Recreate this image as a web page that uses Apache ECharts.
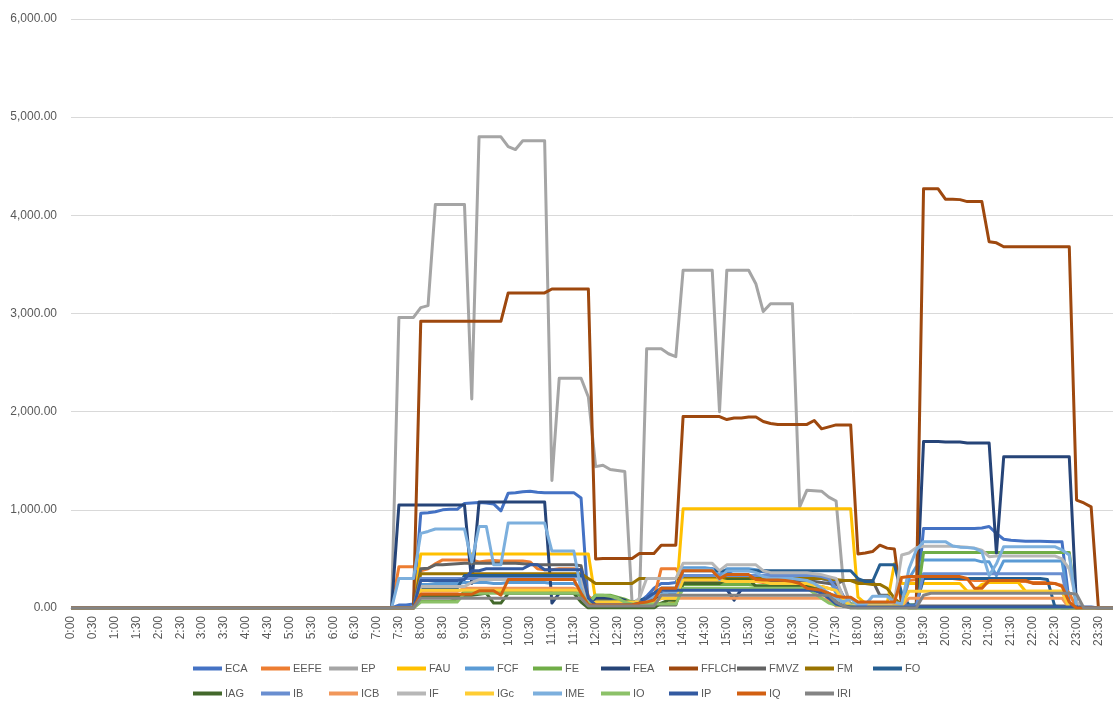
<!DOCTYPE html>
<html>
<head>
<meta charset="utf-8">
<title>Uso por unidade ao longo do dia</title>
<script src="https://cdn.jsdelivr.net/npm/echarts@6/dist/echarts.min.js"></script>
<style>
  html, body { margin: 0; padding: 0; background: #ffffff; }
  #chart { width: 1113px; height: 702px; }
</style>
</head>
<body>
<div id="chart"></div>
<script>
// Time of day, one category every 10 minutes
const times = [
  '0:00','0:10','0:20','0:30','0:40','0:50','1:00','1:10','1:20','1:30','1:40','1:50',
  '2:00','2:10','2:20','2:30','2:40','2:50','3:00','3:10','3:20','3:30','3:40','3:50',
  '4:00','4:10','4:20','4:30','4:40','4:50','5:00','5:10','5:20','5:30','5:40','5:50',
  '6:00','6:10','6:20','6:30','6:40','6:50','7:00','7:10','7:20','7:30','7:40','7:50',
  '8:00','8:10','8:20','8:30','8:40','8:50','9:00','9:10','9:20','9:30','9:40','9:50',
  '10:00','10:10','10:20','10:30','10:40','10:50','11:00','11:10','11:20','11:30','11:40','11:50',
  '12:00','12:10','12:20','12:30','12:40','12:50','13:00','13:10','13:20','13:30','13:40','13:50',
  '14:00','14:10','14:20','14:30','14:40','14:50','15:00','15:10','15:20','15:30','15:40','15:50',
  '16:00','16:10','16:20','16:30','16:40','16:50','17:00','17:10','17:20','17:30','17:40','17:50',
  '18:00','18:10','18:20','18:30','18:40','18:50','19:00','19:10','19:20','19:30','19:40','19:50',
  '20:00','20:10','20:20','20:30','20:40','20:50','21:00','21:10','21:20','21:30','21:40','21:50',
  '22:00','22:10','22:20','22:30','22:40','22:50','23:00','23:10','23:20','23:30','23:40','23:50'
];

// 0:00 - 7:10: every unit is at zero
const night = [0,0,0,0,0,0,0,0,0,0,0,0, 0,0,0,0,0,0,0,0,0,0,0,0,
               0,0,0,0,0,0,0,0,0,0,0,0, 0,0,0,0,0,0,0,0];

// 7:20 - 23:50 (first row 7:20-7:50, then one row per hour from 8h to 23h)
const ECA = [0, 30, 30, 40,
  965, 970, 980, 1000, 1005, 1005,
  1065, 1070, 1075, 1070, 1060, 990,
  1170, 1175, 1185, 1190, 1180, 1175,
  1175, 1175, 1175, 1175, 1120, 20,
  100, 90, 80, 60, 40, 30,
  60, 120, 200, 250, 250, 260,
  390, 400, 400, 400, 400, 380,
  350, 390, 390, 390, 380, 370,
  360, 360, 360, 360, 350, 330,
  320, 300, 280, 260, 120, 40,
  30, 30, 20, 20, 20, 20,
  10, 10, 10, 810, 810, 810,
  810, 810, 810, 810, 810, 815,
  830, 760, 700, 690, 685, 680,
  680, 680, 678, 676, 675, 50,
  0, 0, 0, 0, 0, 0];
const EEFE = [0, 420, 420, 420,
  380, 400, 450, 490, 490, 490,
  490, 490, 470, 480, 485, 480,
  480, 480, 480, 470, 400, 390,
  390, 400, 400, 400, 390, 120,
  60, 50, 50, 40, 40, 30,
  40, 80, 100, 400, 400, 400,
  300, 300, 300, 300, 290, 280,
  270, 280, 280, 280, 270, 260,
  250, 250, 250, 250, 240, 230,
  220, 220, 200, 180, 100, 40,
  20, 20, 20, 20, 20, 20,
  20, 280, 290, 300, 300, 300,
  300, 300, 290, 290, 280, 280,
  280, 280, 280, 270, 270, 270,
  260, 260, 260, 250, 230, 150,
  0, 0, 0, 0, 0, 0];
const EP = [0, 2960, 2960, 2960,
  3060, 3080, 4110, 4110, 4110, 4110,
  4110, 2130, 4800, 4800, 4800, 4800,
  4700, 4670, 4760, 4760, 4760, 4760,
  1300, 2340, 2340, 2340, 2340, 2150,
  1440, 1455, 1410, 1400, 1390, 50,
  30, 2640, 2640, 2640, 2590, 2560,
  3440, 3440, 3440, 3440, 3440, 2000,
  3440, 3440, 3440, 3440, 3300, 3020,
  3100, 3100, 3100, 3100, 1030, 1200,
  1195, 1190, 1130, 1090, 250, 30,
  20, 20, 20, 20, 20, 20,
  20, 0, 0, 0, 0, 0,
  0, 0, 0, 0, 0, 0,
  0, 0, 0, 0, 0, 0,
  0, 0, 0, 0, 0, 0,
  0, 0, 0, 0, 0, 0];
const FAU = [0, 0, 0, 0,
  550, 550, 550, 550, 550, 550,
  550, 550, 550, 550, 550, 550,
  550, 550, 550, 550, 550, 550,
  550, 550, 550, 550, 550, 550,
  80, 80, 70, 60, 50, 40,
  30, 30, 40, 40, 40, 60,
  1010, 1010, 1010, 1010, 1010, 1010,
  1010, 1010, 1010, 1010, 1010, 1010,
  1010, 1010, 1010, 1010, 1010, 1010,
  1010, 1010, 1010, 1010, 1010, 1010,
  110, 50, 40, 40, 40, 450,
  250, 250, 250, 250, 250, 250,
  250, 250, 250, 170, 170, 240,
  260, 260, 260, 260, 260, 170,
  170, 170, 170, 170, 170, 0,
  0, 0, 0, 0, 0, 0];
const FCF = [0, 0, 0, 0,
  240, 240, 250, 250, 250, 250,
  260, 260, 260, 260, 250, 250,
  260, 260, 260, 260, 260, 260,
  250, 250, 250, 250, 200, 30,
  60, 60, 60, 50, 40, 30,
  30, 60, 100, 140, 160, 160,
  410, 410, 410, 410, 400, 330,
  400, 400, 400, 400, 390, 380,
  370, 370, 360, 360, 350, 340,
  330, 320, 300, 150, 60, 30,
  20, 20, 20, 20, 20, 20,
  20, 300, 420, 490, 490, 490,
  490, 490, 490, 490, 490, 470,
  470, 330, 480, 480, 480, 480,
  480, 480, 480, 480, 480, 0,
  0, 0, 0, 0, 0, 0];
const FE = [0, 0, 0, 0,
  70, 70, 70, 70, 70, 90,
  170, 170, 170, 170, 170, 170,
  170, 170, 170, 170, 170, 170,
  170, 170, 170, 170, 120, 60,
  130, 130, 130, 110, 90, 60,
  40, 40, 40, 40, 40, 40,
  240, 240, 240, 240, 240, 240,
  240, 240, 240, 240, 230, 230,
  230, 230, 230, 220, 220, 220,
  200, 180, 150, 100, 60, 40,
  40, 40, 40, 40, 40, 40,
  30, 30, 30, 565, 565, 565,
  565, 565, 565, 565, 565, 565,
  565, 565, 565, 565, 565, 565,
  565, 565, 565, 565, 565, 565,
  0, 0, 0, 0, 0, 0];
const FEA = [0, 1050, 1050, 1050,
  1050, 1050, 1050, 1050, 1050, 1050,
  1050, 250, 1080, 1080, 1080, 1080,
  1080, 1080, 1080, 1080, 1080, 1080,
  50, 150, 150, 150, 150, 30,
  100, 100, 100, 100, 80, 20,
  20, 60, 80, 150, 150, 150,
  190, 190, 190, 190, 190, 190,
  190, 80, 190, 190, 190, 190,
  190, 190, 190, 190, 190, 190,
  190, 180, 150, 60, 20, 10,
  10, 10, 10, 10, 10, 10,
  10, 10, 10, 1695, 1695, 1695,
  1690, 1690, 1690, 1680, 1680, 1680,
  1680, 560, 1540, 1540, 1540, 1540,
  1540, 1540, 1540, 1540, 1540, 1540,
  0, 0, 0, 0, 0, 0];
const FFLCH = [0, 0, 0, 0,
  2920, 2920, 2920, 2920, 2920, 2920,
  2920, 2920, 2920, 2920, 2920, 2920,
  3210, 3210, 3210, 3210, 3210, 3210,
  3250, 3250, 3250, 3250, 3250, 3250,
  500, 505, 505, 505, 505, 505,
  555, 555, 555, 640, 640, 640,
  1950, 1950, 1950, 1950, 1950, 1950,
  1920, 1935, 1935, 1945, 1945, 1900,
  1880, 1870, 1870, 1870, 1870, 1870,
  1910, 1825, 1845, 1865, 1865, 1865,
  550, 560, 575, 640, 610, 600,
  20, 20, 30, 4270, 4270, 4270,
  4165, 4165, 4160, 4140, 4140, 4140,
  3730, 3720, 3680, 3680, 3680, 3680,
  3680, 3680, 3680, 3680, 3680, 3680,
  1100, 1070, 1030, 0, 0, 0];
const FMVZ = [0, 0, 0, 0,
  400, 405, 440, 440, 445, 450,
  455, 455, 455, 455, 455, 455,
  455, 455, 450, 445, 440, 440,
  440, 440, 440, 440, 430, 100,
  30, 30, 30, 30, 30, 30,
  30, 30, 30, 30, 30, 30,
  280, 280, 280, 280, 280, 280,
  280, 280, 280, 280, 280, 280,
  280, 280, 280, 280, 280, 280,
  270, 260, 250, 240, 280, 280,
  280, 280, 280, 130, 130, 60,
  30, 20, 20, 20, 20, 20,
  20, 20, 20, 20, 20, 20,
  20, 20, 20, 20, 20, 20,
  20, 20, 20, 20, 20, 20,
  0, 0, 0, 0, 0, 0];
const FM = [0, 0, 0, 0,
  350, 350, 350, 350, 350, 350,
  350, 350, 350, 350, 350, 350,
  350, 350, 350, 350, 350, 350,
  350, 350, 350, 350, 350, 300,
  250, 250, 250, 250, 250, 250,
  300, 300, 300, 300, 300, 300,
  300, 300, 300, 300, 300, 300,
  300, 300, 300, 300, 300, 300,
  300, 300, 300, 300, 300, 300,
  300, 300, 290, 290, 280, 280,
  250, 250, 240, 240, 200, 100,
  30, 0, 0, 0, 0, 0,
  0, 0, 0, 0, 0, 0,
  0, 0, 0, 0, 0, 0,
  0, 0, 0, 0, 0, 0,
  0, 0, 0, 0, 0, 0];
const FO = [0, 0, 0, 0,
  200, 200, 200, 200, 200, 200,
  330, 330, 330, 330, 330, 330,
  330, 330, 330, 330, 330, 330,
  330, 330, 330, 330, 330, 60,
  60, 60, 60, 60, 60, 60,
  80, 100, 150, 200, 200, 200,
  380, 380, 380, 380, 380, 380,
  380, 380, 380, 380, 380, 380,
  380, 380, 380, 380, 380, 380,
  380, 380, 380, 380, 380, 380,
  300, 270, 270, 440, 440, 440,
  150, 30, 30, 300, 300, 300,
  300, 300, 300, 300, 300, 300,
  300, 300, 300, 300, 300, 300,
  300, 300, 290, 20, 0, 0,
  0, 0, 0, 0, 0, 0];
const IAG = [0, 0, 0, 0,
  120, 120, 120, 120, 120, 120,
  130, 130, 140, 150, 50, 50,
  150, 150, 150, 150, 150, 150,
  150, 150, 150, 150, 60, 0,
  0, 0, 0, 0, 0, 0,
  0, 0, 0, 50, 80, 80,
  250, 250, 250, 250, 250, 250,
  290, 290, 290, 290, 220, 220,
  220, 220, 220, 220, 220, 220,
  220, 220, 100, 100, 100, 0,
  0, 0, 0, 0, 0, 0,
  0, 0, 0, 0, 0, 0,
  0, 0, 0, 0, 0, 0,
  0, 0, 0, 0, 0, 0,
  0, 0, 0, 0, 0, 0,
  0, 0, 0, 0, 0, 0];
const IB = [0, 0, 0, 0,
  300, 300, 300, 300, 300, 300,
  300, 300, 300, 300, 300, 300,
  300, 300, 300, 300, 300, 300,
  300, 300, 300, 300, 300, 60,
  50, 50, 50, 50, 50, 50,
  50, 80, 120, 200, 200, 200,
  330, 330, 330, 330, 330, 330,
  330, 330, 330, 330, 330, 330,
  330, 330, 330, 330, 330, 330,
  330, 320, 300, 200, 60, 20,
  20, 20, 20, 20, 20, 20,
  20, 20, 20, 350, 350, 350,
  350, 350, 350, 350, 350, 350,
  350, 350, 350, 350, 350, 350,
  350, 350, 350, 350, 350, 0,
  0, 0, 0, 0, 0, 0];
const ICB = [0, 0, 0, 0,
  170, 170, 170, 170, 170, 170,
  200, 200, 200, 200, 200, 200,
  200, 200, 200, 200, 200, 200,
  200, 200, 200, 200, 180, 30,
  30, 30, 30, 30, 30, 30,
  30, 40, 60, 100, 100, 100,
  100, 100, 100, 100, 100, 100,
  100, 100, 100, 100, 100, 100,
  100, 100, 100, 100, 100, 100,
  100, 100, 80, 20, 20, 20,
  20, 20, 20, 20, 20, 20,
  20, 100, 100, 100, 100, 100,
  100, 100, 100, 100, 100, 100,
  100, 100, 100, 100, 100, 100,
  100, 100, 100, 100, 100, 0,
  0, 0, 0, 0, 0, 0];
const IF = [0, 0, 0, 0,
  220, 220, 220, 220, 220, 220,
  220, 260, 290, 290, 290, 290,
  290, 290, 290, 290, 290, 290,
  290, 290, 290, 290, 290, 60,
  30, 30, 30, 30, 30, 30,
  100, 300, 300, 300, 300, 300,
  455, 455, 455, 455, 455, 380,
  440, 440, 440, 440, 440, 380,
  360, 360, 360, 360, 360, 360,
  350, 340, 320, 300, 100, 30,
  30, 30, 30, 30, 30, 60,
  540, 560, 615, 630, 630, 630,
  630, 630, 625, 620, 610, 590,
  523, 530, 530, 530, 530, 530,
  530, 530, 530, 530, 500, 400,
  60, 0, 0, 0, 0, 0];
const IGc = [0, 0, 0, 0,
  180, 180, 180, 180, 180, 180,
  180, 180, 180, 180, 180, 180,
  180, 180, 180, 180, 180, 180,
  180, 180, 180, 180, 180, 40,
  60, 60, 60, 60, 60, 60,
  60, 60, 60, 100, 100, 100,
  285, 285, 285, 285, 285, 285,
  270, 270, 270, 270, 270, 270,
  250, 250, 250, 250, 250, 250,
  230, 220, 200, 180, 80, 20,
  20, 20, 20, 20, 20, 20,
  20, 170, 170, 170, 170, 170,
  170, 170, 170, 170, 170, 170,
  170, 170, 170, 170, 170, 170,
  170, 170, 170, 170, 170, 0,
  0, 0, 0, 0, 0, 0];
const IME = [0, 300, 300, 300,
  760, 780, 805, 805, 805, 805,
  805, 470, 830, 830, 440, 440,
  865, 865, 865, 865, 865, 865,
  580, 580, 580, 580, 180, 30,
  30, 30, 30, 30, 30, 30,
  30, 100, 120, 140, 160, 160,
  390, 390, 390, 390, 390, 290,
  380, 380, 380, 380, 360, 320,
  300, 300, 300, 300, 290, 280,
  250, 200, 150, 100, 60, 100,
  30, 30, 120, 120, 120, 60,
  40, 400, 590, 676, 676, 676,
  676, 632, 620, 615, 608, 574,
  330, 450, 625, 625, 625, 625,
  625, 625, 625, 625, 591, 540,
  0, 0, 0, 0, 0, 0];
const IO = [0, 0, 0, 0,
  60, 60, 60, 60, 60, 60,
  150, 150, 150, 150, 150, 150,
  150, 150, 150, 150, 150, 150,
  150, 150, 150, 150, 150, 40,
  130, 130, 120, 100, 60, 40,
  40, 40, 40, 40, 40, 40,
  200, 200, 200, 200, 200, 200,
  200, 200, 200, 200, 200, 200,
  200, 200, 200, 200, 200, 200,
  150, 100, 50, 30, 20, 20,
  0, 0, 0, 0, 0, 0,
  0, 0, 0, 0, 0, 0,
  0, 0, 0, 0, 0, 0,
  0, 0, 0, 0, 0, 0,
  0, 0, 0, 0, 0, 0,
  0, 0, 0, 0, 0, 0];
const IP = [0, 0, 0, 0,
  280, 280, 280, 280, 280, 280,
  290, 380, 380, 400, 400, 400,
  400, 400, 400, 440, 440, 390,
  390, 390, 390, 390, 390, 100,
  30, 30, 30, 30, 30, 30,
  50, 100, 150, 180, 180, 180,
  180, 180, 180, 180, 180, 180,
  180, 180, 180, 180, 180, 180,
  180, 180, 180, 180, 180, 180,
  180, 150, 100, 40, 20, 10,
  10, 10, 10, 10, 10, 10,
  10, 10, 10, 10, 10, 10,
  10, 10, 10, 10, 10, 10,
  10, 10, 10, 10, 10, 10,
  10, 10, 10, 10, 10, 10,
  10, 10, 10, 0, 0, 0];
const IQ = [0, 0, 0, 0,
  140, 140, 140, 140, 140, 140,
  140, 140, 175, 175, 175, 130,
  290, 290, 290, 290, 290, 290,
  290, 290, 290, 290, 150, 30,
  30, 30, 30, 30, 30, 30,
  50, 60, 80, 200, 200, 200,
  380, 380, 380, 380, 380, 300,
  340, 340, 340, 340, 290, 285,
  285, 285, 280, 270, 250, 200,
  190, 180, 150, 120, 110, 110,
  60, 60, 60, 60, 60, 60,
  310, 320, 320, 320, 320, 320,
  320, 320, 320, 300, 200, 200,
  280, 280, 280, 280, 280, 280,
  250, 250, 250, 250, 220, 60,
  0, 0, 0, 0, 0, 0];
const IRI = [0, 0, 0, 0,
  100, 100, 100, 100, 100, 100,
  100, 100, 100, 100, 100, 100,
  100, 100, 100, 100, 100, 100,
  100, 100, 100, 100, 100, 20,
  20, 20, 20, 20, 20, 20,
  20, 20, 20, 130, 130, 130,
  130, 130, 130, 130, 130, 130,
  130, 130, 130, 130, 130, 130,
  130, 130, 130, 130, 130, 130,
  130, 130, 130, 60, 20, 0,
  0, 0, 0, 0, 0, 0,
  0, 0, 0, 130, 150, 150,
  150, 150, 150, 150, 150, 150,
  150, 150, 150, 150, 150, 150,
  150, 150, 150, 150, 150, 150,
  140, 0, 0, 0, 0, 0];

const unitNames = ['ECA','EEFE','EP','FAU','FCF','FE','FEA','FFLCH','FMVZ','FM','FO',
                   'IAG','IB','ICB','IF','IGc','IME','IO','IP','IQ','IRI'];
const unitDay = [ECA, EEFE, EP, FAU, FCF, FE, FEA, FFLCH, FMVZ, FM, FO,
                 IAG, IB, ICB, IF, IGc, IME, IO, IP, IQ, IRI];
const unitColors = ['#4472C4','#ED7D31','#A5A5A5','#FFC000','#5B9BD5','#70AD47','#264478',
                    '#9E480E','#636363','#997300','#255E91','#43682B','#698ED0','#F1975A',
                    '#B7B7B7','#FFCD33','#7CAFDD','#8CC168','#335AA1','#D26012','#848484'];

const textColor = '#595959';
const fontFamily = '"Liberation Sans", Arial, sans-serif';

const series = unitNames.map((name, k) => ({
  name: name,
  type: 'line',
  data: night.concat(unitDay[k]),
  symbol: 'none',
  showSymbol: false,
  lineStyle: { width: 3, color: unitColors[k], join: 'round' },
  itemStyle: { color: unitColors[k] },
  emphasis: { disabled: true },
  animation: false
}));

// Legend laid out as a two-row table with fixed-width columns
const legends = unitNames.map((name, k) => {
  const row = k < 11 ? 0 : 1;
  const col = k < 11 ? k : k - 11;
  return {
    data: [name],
    left: 193 + col * 68,
    top: row === 0 ? 663 : 688,
    padding: 0,
    icon: 'rect',
    itemWidth: 29,
    itemHeight: 4,
    itemGap: 0,
    selectedMode: false,
    textStyle: { color: textColor, fontSize: 11, fontFamily: fontFamily, padding: [0, 0, 0, -2] }
  };
});

const chart = echarts.init(document.getElementById('chart'), null, { renderer: 'canvas' });
chart.setOption({
  backgroundColor: '#ffffff',
  animation: false,
  color: unitColors,
  grid: { left: 71, right: -4.6, top: 19, bottom: 94, containLabel: false },
  legend: legends,
  xAxis: {
    type: 'category',
    data: times,
    boundaryGap: false,
    axisLine: { show: true, lineStyle: { color: '#BFBFBF', width: 1 } },
    axisTick: { show: false },
    splitLine: { show: false },
    axisLabel: {
      interval: 2,
      rotate: 90,
      margin: 8,
      color: textColor,
      fontSize: 12,
      fontFamily: fontFamily
    }
  },
  yAxis: {
    type: 'value',
    min: 0,
    max: 6000,
    interval: 1000,
    axisLine: { show: false },
    axisTick: { show: false },
    splitLine: { lineStyle: { color: '#D9D9D9', width: 1 } },
    axisLabel: {
      margin: 14,
      color: textColor,
      fontSize: 12,
      fontFamily: fontFamily,
      formatter: v => v.toLocaleString('en-US', { minimumFractionDigits: 2, maximumFractionDigits: 2 })
    }
  },
  series: series
});
</script>
</body>
</html>
